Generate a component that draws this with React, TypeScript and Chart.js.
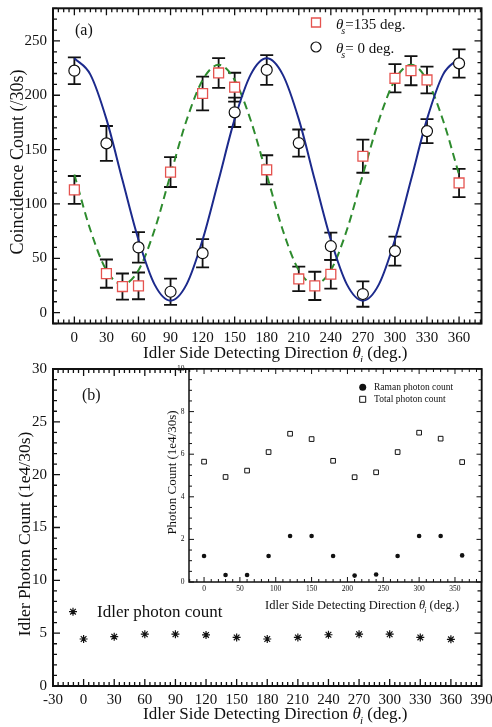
import React, { useEffect, useRef } from 'react';
import { Chart, registerables } from 'chart.js';

Chart.register(...registerables);

const FONT = '"Liberation Serif", "Times New Roman", serif';
const RED = '#e5534f';
const BLUE = '#1c2a8c';
const GREEN = '#2e8b2e';
const INK = '#111111';

// ---------- Panel (a) ----------
const ANGLES_S0 = [0, 30, 60, 90, 120, 150, 180, 210, 240, 270, 300, 330, 360];
const COUNTS_S0 = [222.6, 155.7, 60, 19.2, 54.7, 184.3, 223.3, 156, 61.1, 17.1, 56.6, 167, 229.3];
const ERR_S0 = [12.3, 16, 14, 12, 13, 13.5, 13.7, 12.5, 12.5, 11.7, 13.4, 11, 13];

const ANGLES_S135 = [0, 30, 45, 60, 90, 120, 135, 150, 180, 210, 225, 240, 270, 300, 315, 330, 360];
const COUNTS_S135 = [112.9, 35.9, 24, 24.6, 129.3, 201.6, 220.5, 207.4, 131.4, 31, 24.6, 35.3, 143.9, 215.6, 222.6, 214.1, 119.3];
const ERR_S135 = [12.8, 13, 12, 12.3, 13.7, 15.6, 13.7, 13.3, 13.4, 11.3, 13, 13.2, 15.2, 13, 13.4, 12.3, 13];

const FIT_ANGLES = [0, 15, 30, 45, 60, 75, 90, 105, 120, 135, 150, 165, 180, 195, 210, 225, 240, 255, 270, 285, 300, 315, 330, 345, 360];
const FIT_S0 = [234, 219, 178, 122, 67, 26, 11, 26, 67, 122, 178, 219, 234, 219, 178, 122, 67, 26, 11, 26, 67, 122, 178, 219, 234];
const FIT_S135 = [127, 76, 39, 26, 39, 76, 127, 177, 214, 228, 214, 177, 127, 76, 39, 26, 39, 76, 127, 177, 214, 228, 214, 177, 127];

const XTICKS_A = [0, 30, 60, 90, 120, 150, 180, 210, 240, 270, 300, 330, 360];
const YTICKS_A = [0, 50, 100, 150, 200, 250];

// ---------- Panel (b) ----------
const ANGLES_B = [0, 30, 60, 90, 120, 150, 180, 210, 240, 270, 300, 330, 360];
const IDLER_COUNT = [4.45, 4.67, 4.9, 4.9, 4.83, 4.6, 4.45, 4.6, 4.85, 4.9, 4.9, 4.6, 4.42];
const XTICKS_B = [-30, 0, 30, 60, 90, 120, 150, 180, 210, 240, 270, 300, 330, 360, 390];
const YTICKS_B = [0, 5, 10, 15, 20, 25, 30];

// ---------- Inset ----------
const RAMAN_COUNT = [1.22, 0.33, 0.33, 1.22, 2.16, 2.16, 1.22, 0.3, 0.35, 1.22, 2.16, 2.16, 1.25];
const TOTAL_COUNT = [5.65, 4.93, 5.23, 6.1, 6.96, 6.71, 5.69, 4.92, 5.15, 6.1, 7.01, 6.73, 5.63];
const XTICKS_IN = [0, 50, 100, 150, 200, 250, 300, 350];
const YTICKS_IN = [0, 2, 4, 6, 8, 10];

const f = (size: number, italic = false) => `${italic ? 'italic ' : ''}${size}px ${FONT}`;

type Part = { t: string; font: string; dy?: number; dx?: number };
const xTitleParts = (size: number, sub: number): Part[] => [
  { t: 'Idler Side Detecting Direction ', font: f(size) },
  { t: 'θ', font: f(size, true) },
  { t: 'i', font: f(sub, true), dy: size * 0.28, dx: -1 },
  { t: ' (deg.)', font: f(size) },
];

function partsWidth(ctx: CanvasRenderingContext2D, parts: Part[]) {
  let w = 0;
  for (const p of parts) {
    ctx.font = p.font;
    w += ctx.measureText(p.t).width + (p.dx || 0);
  }
  return w;
}

function drawParts(ctx: CanvasRenderingContext2D, parts: Part[], x: number, y: number) {
  let cx = x;
  for (const p of parts) {
    ctx.font = p.font;
    cx += p.dx || 0;
    ctx.fillText(p.t, cx, y + (p.dy || 0));
    cx += ctx.measureText(p.t).width;
  }
}

// Frame with inward tick marks on all four sides
const framePlugin = {
  id: 'frame',
  beforeDraw(chart: any, _a: any, opts: any) {
    if (!opts.fill) return;
    const { ctx, chartArea: a } = chart;
    ctx.save();
    ctx.fillStyle = '#ffffff';
    ctx.fillRect(a.left, a.top, a.right - a.left, a.bottom - a.top);
    ctx.restore();
  },
  afterDraw(chart: any, _a: any, opts: any) {
    const { ctx, chartArea: a } = chart;
    const xs = chart.scales.x;
    const ys = chart.scales.y;
    ctx.save();
    ctx.strokeStyle = INK;
    ctx.lineWidth = opts.tw;
    ctx.beginPath();
    const xMaj = xs.ticks.map((t: any) => t.value);
    const yMaj = ys.ticks.map((t: any) => t.value);
    for (let k = Math.ceil(xs.min / opts.xMinor); k * opts.xMinor <= xs.max + 1e-9; k++) {
      const v = k * opts.xMinor;
      const px = xs.getPixelForValue(v);
      const len = xMaj.includes(v) ? opts.major : opts.minor;
      ctx.moveTo(px, a.bottom);
      ctx.lineTo(px, a.bottom - len);
      ctx.moveTo(px, a.top);
      ctx.lineTo(px, a.top + len);
    }
    for (let k = Math.ceil(ys.min / opts.yMinor - 1e-9); k * opts.yMinor <= ys.max + 1e-9; k++) {
      const v = Math.round(k * opts.yMinor * 1000) / 1000;
      const py = ys.getPixelForValue(v);
      const len = yMaj.includes(v) ? opts.major : opts.minor;
      ctx.moveTo(a.left, py);
      ctx.lineTo(a.left + len, py);
      ctx.moveTo(a.right, py);
      ctx.lineTo(a.right - len, py);
    }
    ctx.stroke();
    ctx.lineWidth = opts.lw;
    ctx.strokeRect(a.left, a.top, a.right - a.left, a.bottom - a.top);
    ctx.restore();
  },
};

// Vertical error bars from dataset.errorBars
const errorBarPlugin = {
  id: 'errbars',
  beforeDatasetsDraw(chart: any, _a: any, opts: any) {
    const { ctx } = chart;
    const xs = chart.scales.x;
    const ys = chart.scales.y;
    ctx.save();
    ctx.strokeStyle = INK;
    ctx.lineWidth = opts.lw || 1.8;
    const cap = opts.cap || 6.5;
    chart.data.datasets.forEach((ds: any) => {
      if (!ds.errorBars) return;
      ds.data.forEach((p: any, i: number) => {
        const e = ds.errorBars[i];
        const px = xs.getPixelForValue(p.x);
        const yt = ys.getPixelForValue(p.y + e);
        const yb = ys.getPixelForValue(p.y - e);
        ctx.beginPath();
        ctx.moveTo(px, yt);
        ctx.lineTo(px, yb);
        ctx.moveTo(px - cap, yt);
        ctx.lineTo(px + cap, yt);
        ctx.moveTo(px - cap, yb);
        ctx.lineTo(px + cap, yb);
        ctx.stroke();
      });
    });
    ctx.restore();
  },
};

// Titles, panel labels and legends
const textPlugin = {
  id: 'texts',
  afterDraw(chart: any, _a: any, opts: any) {
    const { ctx } = chart;
    ctx.save();
    ctx.fillStyle = INK;
    for (const m of opts.markers || []) {
      ctx.beginPath();
      ctx.lineWidth = m.lw || 1.2;
      ctx.strokeStyle = m.color;
      if (m.shape === 'rect') {
        ctx.fillStyle = '#ffffff';
        ctx.rect(m.x - m.size / 2, m.y - m.size / 2, m.size, m.size);
        ctx.fill();
        ctx.stroke();
      } else if (m.shape === 'circle') {
        ctx.fillStyle = '#ffffff';
        ctx.arc(m.x, m.y, m.size / 2, 0, Math.PI * 2);
        ctx.fill();
        ctx.stroke();
      } else if (m.shape === 'dot') {
        ctx.fillStyle = m.color;
        ctx.arc(m.x, m.y, m.size / 2, 0, Math.PI * 2);
        ctx.fill();
      } else if (m.shape === 'star') {
        const r = m.size / 2;
        for (let k = 0; k < 4; k++) {
          const ang = (k * Math.PI) / 4;
          ctx.moveTo(m.x - r * Math.cos(ang), m.y - r * Math.sin(ang));
          ctx.lineTo(m.x + r * Math.cos(ang), m.y + r * Math.sin(ang));
        }
        ctx.stroke();
      }
    }
    ctx.fillStyle = INK;
    for (const it of opts.items || []) {
      ctx.textBaseline = it.baseline || 'alphabetic';
      ctx.textAlign = 'left';
      if (it.rotate) {
        ctx.save();
        ctx.translate(it.x, it.y);
        ctx.rotate(-Math.PI / 2);
        ctx.textBaseline = 'middle';
        const w = partsWidth(ctx, it.parts);
        drawParts(ctx, it.parts, -w / 2, 0);
        ctx.restore();
      } else {
        drawParts(ctx, it.parts, it.x, it.y);
      }
    }
    ctx.restore();
  },
};

const pts = (xs: number[], ys: number[]) => xs.map((x, i) => ({ x, y: ys[i] }));

function xScale(min: number, max: number, ticks: number[], height: number, size: number, pad: number) {
  return {
    type: 'linear',
    min,
    max,
    afterBuildTicks: (s: any) => {
      s.ticks = ticks.map((v) => ({ value: v }));
    },
    afterFit: (s: any) => {
      s.height = height;
      s.paddingLeft = 0;
      s.paddingRight = 0;
    },
    grid: { display: false, drawTicks: false },
    border: { display: false },
    ticks: { font: { family: FONT, size }, color: INK, padding: pad, maxRotation: 0, autoSkip: false },
  };
}

function yScale(min: number, max: number, ticks: number[], width: number, size: number, pad: number) {
  return {
    type: 'linear',
    min,
    max,
    afterBuildTicks: (s: any) => {
      s.ticks = ticks.map((v) => ({ value: v }));
    },
    afterFit: (s: any) => {
      s.width = width;
      s.paddingTop = 0;
      s.paddingBottom = 0;
    },
    grid: { display: false, drawTicks: false },
    border: { display: false },
    ticks: { font: { family: FONT, size }, color: INK, padding: pad, autoSkip: false },
  };
}

function configA(): any {
  return {
    type: 'scatter',
    data: {
      datasets: [
        {
          label: 'θs=135 deg.',
          data: pts(ANGLES_S135, COUNTS_S135),
          errorBars: ERR_S135,
          pointStyle: 'rect',
          pointRadius: 7,
          borderColor: RED,
          backgroundColor: '#ffffff',
          borderWidth: 1.3,
          showLine: false,
        },
        {
          label: 'θs=0 deg.',
          data: pts(ANGLES_S0, COUNTS_S0),
          errorBars: ERR_S0,
          pointStyle: 'circle',
          pointRadius: 5.5,
          borderColor: INK,
          backgroundColor: '#ffffff',
          borderWidth: 1.2,
          showLine: false,
        },
        {
          label: 'fit θs=0',
          data: pts(FIT_ANGLES, FIT_S0),
          showLine: true,
          borderColor: BLUE,
          borderWidth: 2,
          pointRadius: 0,
          cubicInterpolationMode: 'monotone',
        },
        {
          label: 'fit θs=135',
          data: pts(FIT_ANGLES, FIT_S135),
          showLine: true,
          borderColor: GREEN,
          borderWidth: 2,
          borderDash: [8, 5],
          pointRadius: 0,
          cubicInterpolationMode: 'monotone',
        },
      ],
    },
    options: {
      responsive: false,
      animation: false,
      events: [],
      layout: { padding: { left: 0, top: 7, right: 10.5, bottom: 0 } },
      plugins: {
        legend: { display: false },
        tooltip: { enabled: false },
        frame: { xMinor: 5, yMinor: 10, major: 7, minor: 4, lw: 2, tw: 1.3 },
        errbars: { cap: 6.5, lw: 1.8 },
        texts: {
          markers: [
            { shape: 'rect', x: 316, y: 22.5, size: 9, color: RED, lw: 1.3 },
            { shape: 'circle', x: 316, y: 47, size: 10, color: INK, lw: 1.2 },
          ],
          items: [
            { x: 143, y: 358, parts: xTitleParts(17, 11) },
            { x: 18, y: 162, rotate: true, parts: [{ t: 'Coincidence Count (/30s)', font: f(18) }] },
            { x: 75, y: 35, parts: [{ t: '(a)', font: f(16) }] },
            {
              x: 336,
              y: 28.5,
              parts: [
                { t: 'θ', font: f(15, true) },
                { t: 's', font: f(10, true), dy: 5, dx: -2 },
                { t: '=135 deg.', font: f(15) },
              ],
            },
            {
              x: 336,
              y: 53,
              parts: [
                { t: 'θ', font: f(15, true) },
                { t: 's', font: f(10, true), dy: 5, dx: -2 },
                { t: '= 0 deg.', font: f(15) },
              ],
            },
          ],
        },
      },
      scales: {
        x: xScale(-20, 381, XTICKS_A, 38.5, 15, 5.5),
        y: yScale(-10, 280, YTICKS_A, 53, 15, 6),
      },
    },
    plugins: [framePlugin, errorBarPlugin, textPlugin],
  };
}

function configB(): any {
  return {
    type: 'scatter',
    data: {
      datasets: [
        {
          label: 'Idler photon count',
          data: pts(ANGLES_B, IDLER_COUNT),
          pointStyle: 'star',
          pointRadius: 4,
          borderColor: INK,
          backgroundColor: INK,
          borderWidth: 1.2,
          showLine: false,
        },
      ],
    },
    options: {
      responsive: false,
      animation: false,
      events: [],
      layout: { padding: { left: 0, top: 7, right: 10.5, bottom: 0 } },
      plugins: {
        legend: { display: false },
        tooltip: { enabled: false },
        frame: { xMinor: 5, yMinor: 1, major: 7, minor: 4, lw: 2, tw: 1.3 },
        texts: {
          markers: [{ shape: 'star', x: 73, y: 249.7, size: 8, color: INK, lw: 1.2 }],
          items: [
            { x: 143, y: 357, parts: xTitleParts(17, 11) },
            { x: 25, y: 172, rotate: true, parts: [{ t: 'Idler Photon Count (1e4/30s)', font: f(17.5) }] },
            { x: 82, y: 37.5, parts: [{ t: '(b)', font: f(16) }] },
            { x: 97, y: 254.7, parts: [{ t: 'Idler photon count', font: f(17) }] },
          ],
        },
      },
      scales: {
        x: xScale(-30, 390, XTICKS_B, 41, 15, 5),
        y: yScale(0, 30, YTICKS_B, 53, 15, 6),
      },
    },
    plugins: [framePlugin, textPlugin],
  };
}

function configInset(): any {
  return {
    type: 'scatter',
    data: {
      datasets: [
        {
          label: 'Raman photon count',
          data: pts(ANGLES_B, RAMAN_COUNT),
          pointStyle: 'circle',
          pointRadius: 2.3,
          borderColor: INK,
          backgroundColor: INK,
          borderWidth: 0,
          showLine: false,
        },
        {
          label: 'Total photon count',
          data: pts(ANGLES_B, TOTAL_COUNT),
          pointStyle: 'rect',
          pointRadius: 3.3,
          borderColor: INK,
          backgroundColor: '#ffffff',
          borderWidth: 1,
          showLine: false,
        },
      ],
    },
    options: {
      responsive: false,
      animation: false,
      events: [],
      layout: { padding: { left: 0, top: 7, right: 10.5, bottom: 0 } },
      plugins: {
        legend: { display: false },
        tooltip: { enabled: false },
        frame: { fill: true, xMinor: 10, yMinor: 0.5, major: 5, minor: 3, lw: 1.5, tw: 1 },
        texts: {
          markers: [
            { shape: 'dot', x: 222.7, y: 25.3, size: 7, color: INK },
            { shape: 'rect', x: 222.7, y: 37.3, size: 6, color: INK, lw: 1 },
          ],
          items: [
            { x: 125, y: 247, parts: xTitleParts(12.5, 8) },
            { x: 33, y: 110.5, rotate: true, parts: [{ t: 'Photon Count (1e4/30s)', font: f(13) }] },
            { x: 234, y: 25.8, baseline: 'middle', parts: [{ t: 'Raman photon count', font: f(9.5) }] },
            { x: 234, y: 37.8, baseline: 'middle', parts: [{ t: 'Total photon count', font: f(9.5) }] },
          ],
        },
      },
      scales: {
        x: xScale(-21, 387, XTICKS_IN, 42, 7.5, 2.5),
        y: yScale(0, 10, YTICKS_IN, 49, 7.5, 4.5),
      },
    },
    plugins: [framePlugin, textPlugin],
  };
}

export default function App() {
  const aRef = useRef<HTMLCanvasElement>(null);
  const bRef = useRef<HTMLCanvasElement>(null);
  const cRef = useRef<HTMLCanvasElement>(null);

  useEffect(() => {
    const charts = [
      new Chart(aRef.current as HTMLCanvasElement, configA()),
      new Chart(bRef.current as HTMLCanvasElement, configB()),
      new Chart(cRef.current as HTMLCanvasElement, configInset()),
    ];
    return () => charts.forEach((c) => c.destroy());
  }, []);

  return (
    <div style={{ position: 'absolute', left: 0, top: 0, width: 492, height: 727, background: '#ffffff' }}>
      <canvas ref={aRef} width={492} height={362} style={{ position: 'absolute', left: 0, top: 0 }} />
      <canvas ref={bRef} width={492} height={365} style={{ position: 'absolute', left: 0, top: 362 }} />
      <canvas ref={cRef} width={352} height={262} style={{ position: 'absolute', left: 140, top: 362 }} />
    </div>
  );
}
